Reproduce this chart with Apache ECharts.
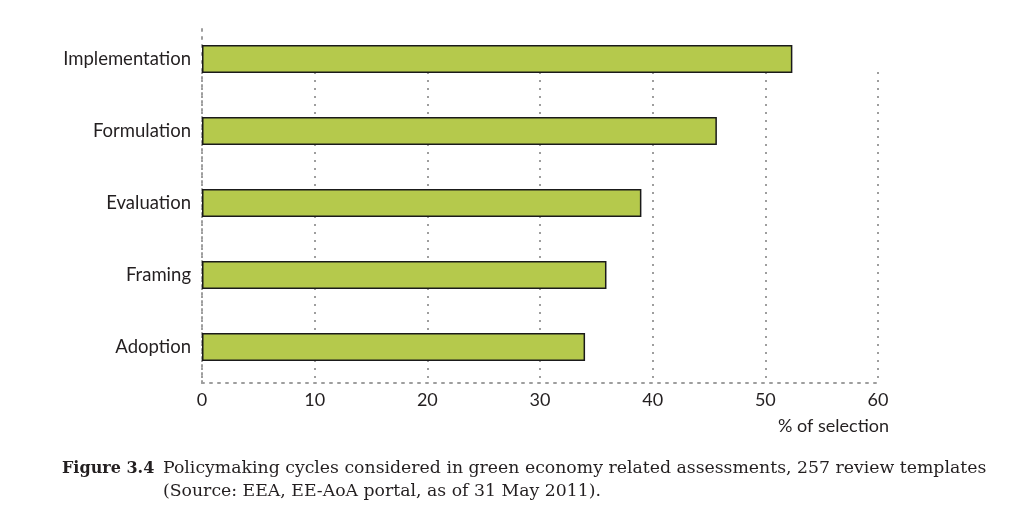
<!DOCTYPE html>
<html><head><meta charset="utf-8">
<script src="https://cdn.jsdelivr.net/npm/echarts@6/dist/echarts.min.js"></script>
<style>html,body{margin:0;padding:0;background:#fff}#c{width:1030px;height:525px}</style>
</head><body><div id="c"></div>
<script>
const categories = ['Adoption', 'Framing', 'Evaluation', 'Formulation', 'Implementation'];
const values = [34.0, 35.9, 39.0, 45.7, 52.4];
const xTicks = [0, 10, 20, 30, 40, 50, 60];
const axisName = '% of selection';
const captionLabel = 'Figure 3.4';
const captionLine1 = 'Policymaking cycles considered in green economy related assessments, 257 review templates';
const captionLine2 = '(Source: EEA, EE-AoA portal, as of 31 May 2011).';

const sans = 'Lato, "Open Sans", sans-serif';
const serif = '"DejaVu Serif", "Liberation Serif", serif';
const ink = '#231f20';
const dotted = {color: '#9e9e9e', type: [2, 6], width: 2};

const chart = echarts.init(document.getElementById('c'));
chart.setOption({
  animation: false,
  grid: [
    {left: 202, right: 152, top: 23, bottom: 142, containLabel: false},
    {left: 202, right: 152, top: 72, bottom: 142, containLabel: false}
  ],
  xAxis: [
    {gridIndex: 0, type: 'value', min: xTicks[0], max: xTicks[xTicks.length - 1], interval: 10,
     axisLine: {show: true, lineStyle: dotted}, axisTick: {show: false},
     splitLine: {show: false},
     axisLabel: {color: ink, fontFamily: sans, fontSize: 18, margin: 8},
     name: axisName, nameLocation: 'end', nameGap: 0,
     nameTextStyle: {color: ink, fontFamily: sans, fontSize: 18, align: 'right', verticalAlign: 'top', padding: [34, -11, 0, 0]}},
    {gridIndex: 1, type: 'value', min: xTicks[0], max: xTicks[xTicks.length - 1], interval: 10,
     axisLine: {show: false}, axisTick: {show: false}, axisLabel: {show: false},
     splitLine: {show: true, lineStyle: dotted}}
  ],
  yAxis: [
    {gridIndex: 0, type: 'category', data: categories,
     axisLine: {show: true, lineStyle: dotted}, axisTick: {show: false},
     axisLabel: {color: ink, fontFamily: sans, fontSize: 18.5, margin: 11}},
    {gridIndex: 1, type: 'category', data: categories, show: false}
  ],
  series: [
    {type: 'bar', xAxisIndex: 0, yAxisIndex: 0, data: values, barWidth: 28, z: 5,
     itemStyle: {color: '#b5c94c', borderColor: '#1a1a1a', borderWidth: 1.5}}
  ],
  title: {
    left: 57, top: 452,
    text: '{b|' + captionLabel + '}{n|' + captionLine1 + '}\n{s|}{n|' + captionLine2 + '}',
    textStyle: {
      fontWeight: 'normal',
      rich: {
        b: {fontFamily: serif, fontWeight: 'bold', fontSize: 16, color: ink, lineHeight: 23, width: 101},
        n: {fontFamily: serif, fontWeight: 'normal', fontSize: 17.3, color: ink, lineHeight: 23},
        s: {width: 101, lineHeight: 23}
      }
    }
  }
});
</script></body></html>
